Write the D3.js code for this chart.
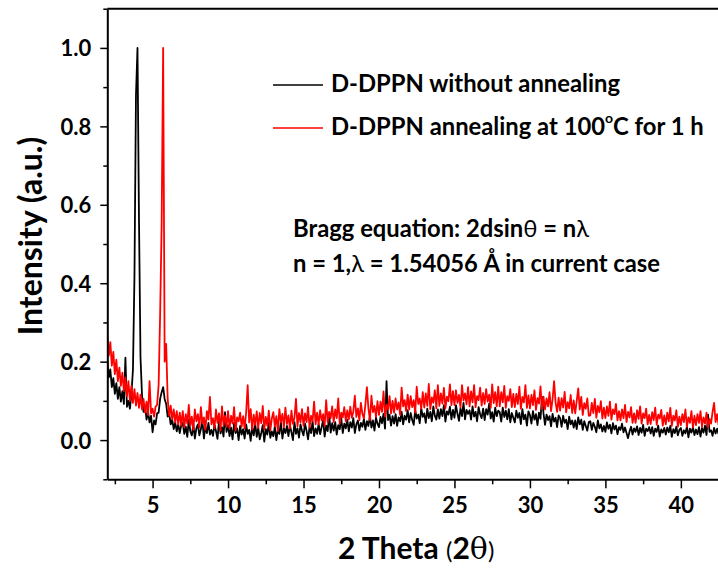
<!DOCTYPE html>
<html><head><meta charset="utf-8">
<script src="https://cdn.jsdelivr.net/npm/d3@7"></script>
<style>body{margin:0;background:#fff}svg{display:block}text{font-family:Lato,"Open Sans",sans-serif}</style>
</head><body>
<svg id="c" width="718" height="570"></svg>
<script>
// 2θ grid: 2.0 .. 42.5, step 0.1
const twoThetaStart = 2.0, twoThetaStep = 0.1, twoThetaCount = 406;
const xTicks = [5, 10, 15, 20, 25, 30, 35, 40];
const yTicks = [0.0, 0.2, 0.4, 0.6, 0.8, 1.0];
const seriesNames = ["D-DPPN without annealing", "D-DPPN annealing at 100°C for 1 h"];
const seriesColors = ["#000000", "#ff0000"];

const blackVals = [
0.205,0.160,0.180,0.135,0.158,0.118,0.145,0.105,0.135,0.098,
0.125,0.092,0.210,0.085,0.100,0.080,0.118,0.180,0.420,0.880,
1.000,0.560,0.210,0.115,0.072,0.088,0.052,0.072,0.045,0.062,
0.020,0.050,0.040,0.068,0.070,0.105,0.122,0.135,0.105,0.092,
0.060,0.068,0.040,0.052,0.028,0.045,0.022,0.040,0.018,0.038,
0.044,0.016,0.034,0.008,0.052,0.022,0.012,0.040,0.004,0.030,
0.040,0.012,0.028,0.050,0.004,0.034,0.018,0.044,0.014,0.026,
0.011,0.039,0.023,0.003,0.049,0.017,0.033,0.009,0.071,0.021,
0.038,0.010,0.032,0.002,0.044,0.018,0.030,0.000,0.036,0.014,
0.028,0.004,0.040,0.016,0.026,-0.002,0.034,0.012,0.042,0.008,
0.032,0.002,0.018,0.038,-0.004,0.028,0.014,0.044,0.006,0.022,
0.010,0.034,0.000,0.026,0.016,0.046,0.004,0.030,0.018,0.036,
0.010,0.038,0.020,0.000,0.046,0.016,0.030,0.006,0.040,0.024,
0.012,0.042,0.024,0.002,0.034,0.018,0.048,0.010,0.030,0.016,
0.041,0.015,0.033,0.051,0.009,0.037,0.023,0.065,0.019,0.043,
0.024,0.046,0.014,0.038,0.028,0.056,0.018,0.042,0.030,0.052,
0.022,0.046,0.032,0.056,0.018,0.040,0.050,0.024,0.044,0.034,
0.054,0.026,0.048,0.036,0.062,0.032,0.050,0.024,0.058,0.042,
0.033,0.059,0.043,0.067,0.029,0.150,0.051,0.065,0.037,0.061,
0.042,0.066,0.036,0.058,0.048,0.072,0.040,0.062,0.052,0.076,
0.045,0.069,0.051,0.039,0.077,0.055,0.065,0.043,0.081,0.059,
0.068,0.044,0.080,0.056,0.072,0.048,0.086,0.062,0.052,0.078,
0.055,0.079,0.061,0.089,0.047,0.073,0.065,0.085,0.053,0.077,
0.057,0.089,0.067,0.049,0.081,0.061,0.095,0.053,0.077,0.067,
0.076,0.052,0.086,0.060,0.072,0.048,0.084,0.066,0.056,0.080,
0.051,0.079,0.065,0.093,0.055,0.071,0.047,0.083,0.061,0.075,
0.071,0.047,0.083,0.059,0.075,0.053,0.079,0.045,0.069,0.057,
0.045,0.075,0.057,0.069,0.041,0.079,0.053,0.065,0.037,0.073,
0.064,0.042,0.074,0.052,0.066,0.038,0.070,0.054,0.110,0.068,
0.039,0.065,0.051,0.061,0.035,0.067,0.047,0.057,0.033,0.063,
0.056,0.034,0.062,0.044,0.052,0.028,0.060,0.040,0.050,0.032,
0.050,0.028,0.058,0.040,0.052,0.026,0.048,0.036,0.024,0.046,
0.048,0.026,0.044,0.034,0.020,0.050,0.030,0.040,0.022,0.036,
0.021,0.045,0.029,0.039,0.017,0.043,0.027,0.037,0.015,0.033,
0.026,0.042,0.020,0.032,0.018,0.005,0.022,0.034,0.014,0.030,
0.021,0.035,0.013,0.031,0.019,0.039,0.011,0.029,0.023,0.033,
0.017,0.033,0.011,0.029,0.021,0.037,0.009,0.027,0.019,0.031,
0.014,0.032,0.020,0.036,0.008,0.028,0.018,0.034,0.012,0.026,
0.031,0.011,0.025,0.017,0.035,0.007,0.029,0.019,0.033,0.013,
0.027,0.015,0.033,0.009,0.031,0.019,0.037,0.013,0.065,0.021,
0.025,0.011,0.031,0.017,0.029,0.015
];

const redVals = [
0.265,0.215,0.250,0.190,0.225,0.168,0.205,0.150,0.185,0.138,
0.172,0.125,0.160,0.112,0.150,0.100,0.138,0.095,0.130,0.088,
0.120,0.082,0.116,0.078,0.105,0.070,0.098,0.064,0.150,0.068,
0.080,0.060,0.085,0.090,0.140,0.320,0.550,1.000,0.200,0.245,
0.105,0.062,0.088,0.052,0.078,0.045,0.074,0.040,0.070,0.038,
0.074,0.032,0.066,0.042,0.090,0.036,0.060,0.026,0.078,0.048,
0.066,0.032,0.084,0.042,0.058,0.026,0.074,0.052,0.110,0.040,
0.056,0.030,0.078,0.044,0.068,0.024,0.086,0.038,0.062,0.034,
0.074,0.030,0.062,0.042,0.084,0.024,0.058,0.048,0.070,0.034,
0.061,0.029,0.071,0.140,0.045,0.079,0.027,0.065,0.039,0.073,
0.031,0.069,0.043,0.087,0.027,0.059,0.037,0.075,0.025,0.055,
0.071,0.035,0.061,0.023,0.079,0.045,0.067,0.033,0.083,0.041,
0.063,0.029,0.075,0.041,0.057,0.105,0.035,0.069,0.045,0.079,
0.036,0.068,0.046,0.084,0.032,0.062,0.048,0.098,0.040,0.070,
0.040,0.076,0.050,0.066,0.036,0.102,0.046,0.072,0.056,0.086,
0.046,0.078,0.056,0.106,0.042,0.070,0.058,0.084,0.048,0.076,
0.053,0.085,0.057,0.073,0.113,0.059,0.081,0.051,0.095,0.067,
0.055,0.091,0.135,0.081,0.051,0.113,0.071,0.087,0.059,0.099,
0.064,0.098,0.072,0.124,0.060,0.090,0.078,0.112,0.068,0.100,
0.070,0.106,0.078,0.096,0.064,0.134,0.086,0.102,0.074,0.116,
0.078,0.112,0.084,0.102,0.070,0.136,0.092,0.106,0.080,0.122,
0.083,0.119,0.087,0.143,0.079,0.109,0.095,0.127,0.081,0.140,
0.087,0.119,0.093,0.133,0.081,0.111,0.099,0.142,0.089,0.125,
0.089,0.127,0.095,0.115,0.083,0.140,0.101,0.119,0.091,0.135,
0.086,0.124,0.096,0.140,0.084,0.112,0.102,0.134,0.088,0.120,
0.092,0.130,0.098,0.116,0.082,0.142,0.094,0.122,0.086,0.136,
0.086,0.122,0.096,0.138,0.082,0.112,0.100,0.130,0.084,0.118,
0.084,0.118,0.092,0.136,0.080,0.110,0.096,0.140,0.082,0.114,
0.081,0.115,0.089,0.127,0.077,0.107,0.093,0.137,0.079,0.111,
0.078,0.106,0.086,0.122,0.074,0.104,0.150,0.096,0.072,0.108,
0.075,0.107,0.083,0.123,0.071,0.097,0.081,0.115,0.069,0.101,
0.068,0.100,0.132,0.078,0.110,0.064,0.094,0.080,0.106,0.062,
0.063,0.095,0.069,0.105,0.057,0.087,0.071,0.099,0.055,0.083,
0.056,0.086,0.062,0.098,0.052,0.078,0.066,0.092,0.050,0.074,
0.050,0.078,0.056,0.090,0.046,0.072,0.058,0.084,0.044,0.068,
0.044,0.076,0.054,0.086,0.042,0.068,0.056,0.080,0.040,0.064,
0.041,0.071,0.051,0.083,0.039,0.065,0.055,0.077,0.037,0.063,
0.040,0.070,0.048,0.082,0.036,0.062,0.050,0.076,0.034,0.060,
0.038,0.066,0.046,0.078,0.034,0.058,0.044,0.074,0.032,0.062,
0.038,0.066,0.044,0.074,0.034,0.058,0.042,0.070,0.032,0.054,
0.042,0.072,0.095,0.046,0.066,0.038
];

const twoTheta = d3.range(twoThetaCount).map(i => +(twoThetaStart + i * twoThetaStep).toFixed(2));

const svg = d3.select("#c");
const L = 107.3, R = 718.6, T = 8.7, B = 479.3;
const x = d3.scaleLinear().domain([2, 42.5]).range([L, R]);
const y = d3.scaleLinear().domain([-0.1, 1.1]).range([B, T]);

svg.append("defs").append("clipPath").attr("id","clip")
  .append("rect").attr("x",L).attr("y",T).attr("width",R-L).attr("height",B-T);

const line = d3.line().x((d,i)=>x(twoTheta[i])).y(d=>y(d));
const plot = svg.append("g").attr("clip-path","url(#clip)");
[blackVals, redVals].forEach((vals, k) => {
  plot.append("path").datum(vals).attr("d", line)
    .attr("fill","none").attr("stroke",seriesColors[k]).attr("stroke-width",1.8)
    .attr("stroke-linejoin","round");
});

// frame top
svg.append("line").attr("x1",L).attr("x2",R).attr("y1",T).attr("y2",T)
  .attr("stroke","#000").attr("stroke-width",2);

// minor ticks
const yMinor = [-0.1, 0.1, 0.3, 0.5, 0.7, 0.9, 1.1];
const xMinor = [2.5, 7.5, 12.5, 17.5, 22.5, 27.5, 32.5, 37.5, 42.5];
svg.append("g").attr("transform",`translate(${L},0)`)
  .call(d3.axisLeft(y).tickValues(yMinor).tickSize(4).tickFormat(""))
  .call(g=>g.select(".domain").remove())
  .selectAll("line").attr("stroke-width",1.5);
svg.append("g").attr("transform",`translate(0,${B})`)
  .call(d3.axisBottom(x).tickValues(xMinor).tickSize(5).tickFormat(""))
  .call(g=>g.select(".domain").remove())
  .selectAll("line").attr("stroke-width",1.5);

// major axes
const yAxis = svg.append("g").attr("transform",`translate(${L},0)`)
  .call(d3.axisLeft(y).tickValues(yTicks).tickSize(7).tickSizeOuter(0).tickPadding(9).tickFormat(d3.format(".1f")));
const xAxis = svg.append("g").attr("transform",`translate(0,${B})`)
  .call(d3.axisBottom(x).tickValues(xTicks).tickSize(9).tickSizeOuter(0).tickPadding(9));
[yAxis, xAxis].forEach(g => {
  g.select(".domain").attr("stroke-width",2);
  g.selectAll(".tick line").attr("stroke-width",1.5);
  g.selectAll("text").attr("font-size",22).attr("font-weight","bold").attr("fill","#000")
    .style("font-family","Lato, sans-serif");
});
yAxis.selectAll("text").attr("dy","0.36em");

// axis titles
svg.append("text").attr("transform","translate(42,236) rotate(-90)")
  .attr("text-anchor","middle").attr("font-size",32).attr("font-weight","bold")
  .text("Intensity (a.u.)");
const xt = svg.append("text").attr("x",338).attr("y",559).attr("font-size",30).attr("font-weight","bold");
xt.append("tspan").text("2 Theta ");
xt.append("tspan").attr("font-size",24).attr("font-weight","normal").text("(");
xt.append("tspan").text("2");
xt.append("tspan").attr("font-weight","normal").attr("font-family","DejaVu Serif").text("θ");
xt.append("tspan").attr("font-size",24).attr("font-weight","normal").text(")");

// legend
const lg = svg.append("g");
[85, 128].forEach((ly, k) => {
  lg.append("line").attr("x1",273).attr("x2",323).attr("y1",ly).attr("y2",ly)
    .attr("stroke",seriesColors[k]).attr("stroke-width",1.5);
});
lg.append("text").attr("x",331).attr("y",92).attr("font-size",23.8).attr("font-weight","bold").text(seriesNames[0]);
const t2 = lg.append("text").attr("x",331).attr("y",135).attr("font-size",23.8).attr("font-weight","bold");
t2.append("tspan").text("D-DPPN annealing at 100");
t2.append("tspan").attr("font-size",14).attr("dy",-12).text("o");
t2.append("tspan").attr("dy",12).text("C for 1 h");

// annotation
const a1 = svg.append("text").attr("x",293).attr("y",237).attr("font-size",23.8).attr("font-weight","bold");
a1.append("tspan").text("Bragg equation: 2dsin");
a1.append("tspan").attr("font-weight","normal").text("θ");
a1.append("tspan").text(" = n");
a1.append("tspan").attr("font-weight","normal").text("λ");
const a2 = svg.append("text").attr("x",293).attr("y",272).attr("font-size",23.8).attr("font-weight","bold");
a2.append("tspan").text("n = 1,");
a2.append("tspan").attr("font-weight","normal").text("λ");
a2.append("tspan").text(" = 1.54056 Å in current case");
</script>
</body></html>
